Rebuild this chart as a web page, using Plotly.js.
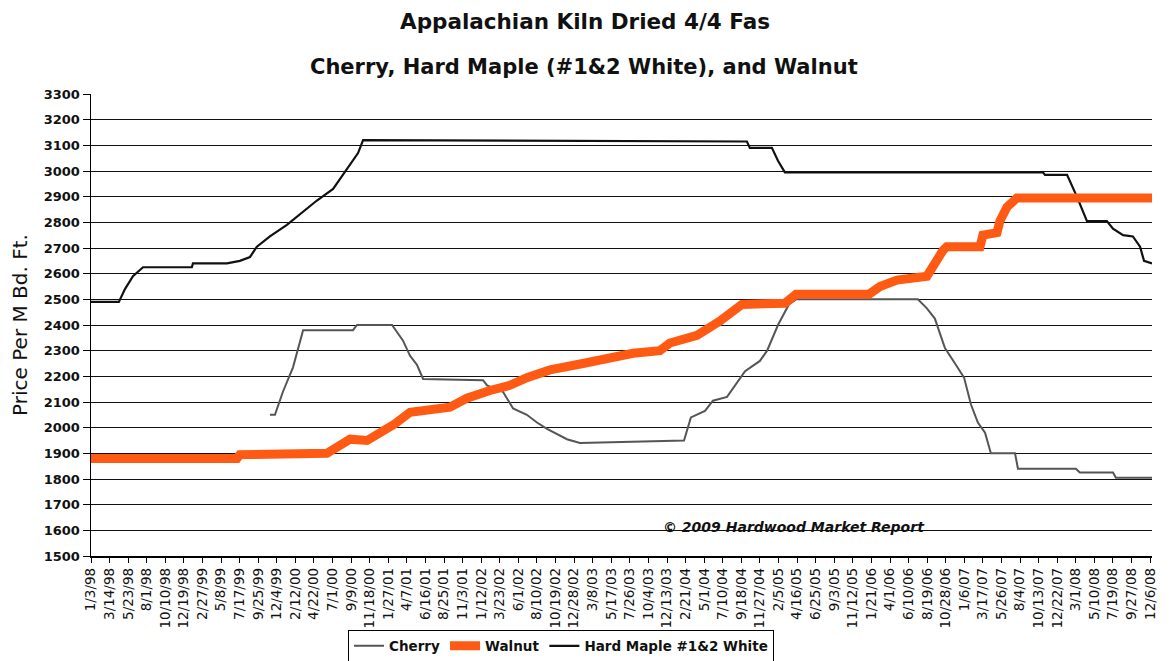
<!DOCTYPE html>
<html><head><meta charset="utf-8">
<script src="https://cdn.plot.ly/plotly-3.0.1.min.js"></script>
<style>html,body{margin:0;padding:0;background:#fff}#chart{width:1170px;height:661px}</style>
</head><body><div id="chart"></div>
<script>
// Category tick labels along the x axis (every 10 weeks)
const tickLabels = ['1/3/98','3/14/98','5/23/98','8/1/98','10/10/98','12/19/98','2/27/99','5/8/99','7/17/99','9/25/99','12/4/99','2/12/00','4/22/00','7/1/00','9/9/00','11/18/00','1/27/01','4/7/01','6/16/01','8/25/01','11/3/01','1/12/02','3/23/02','6/1/02','8/10/02','10/19/02','12/28/02','3/8/03','5/17/03','7/26/03','10/4/03','12/13/03','2/21/04','5/1/04','7/10/04','9/18/04','11/27/04','2/5/05','4/16/05','6/25/05','9/3/05','11/12/05','1/21/06','4/1/06','6/10/06','8/19/06','10/28/06','1/6/07','3/17/07','5/26/07','8/4/07','10/13/07','12/22/07','3/1/08','5/10/08','7/19/08','9/27/08','12/6/08'];

// Cherry
const cherryDates = ['1999-11-08','1999-11-27','1999-12-27','2000-02-03','2000-03-12','2000-09-16','2000-10-01','2001-02-10','2001-03-23','2001-04-19','2001-05-15','2001-06-07','2002-01-19','2002-02-03','2002-04-04','2002-05-12','2002-07-03','2002-08-10','2002-09-17','2002-12-01','2003-01-19','2004-02-15','2004-03-12','2004-05-04','2004-06-03','2004-07-26','2004-10-02','2004-11-27','2004-12-24','2005-02-03','2005-03-16','2005-04-12','2006-07-15','2006-08-18','2006-09-17','2006-10-25','2006-12-05','2007-01-05','2007-01-31','2007-02-26','2007-03-25','2007-04-16','2007-07-16','2007-07-27','2008-03-01','2008-03-16','2008-07-19','2008-07-30','2008-12-13'];
const cherryPrices = [2050,2050,2140,2235,2380,2380,2400,2400,2340,2280,2245,2190,2185,2165,2140,2075,2050,2020,1995,1955,1940,1950,2040,2065,2105,2120,2220,2260,2300,2400,2480,2500,2500,2465,2425,2310,2245,2195,2090,2020,1980,1900,1900,1840,1840,1825,1825,1805,1805];

// Walnut
const walnutDates = ['1998-01-03','1999-07-07','1999-07-18','2000-06-10','2000-09-05','2000-11-08','2001-02-21','2001-04-19','2001-09-16','2001-11-19','2002-02-14','2002-04-30','2002-07-03','2002-09-28','2003-01-30','2003-08-07','2003-11-16','2003-12-24','2004-04-04','2004-05-23','2004-06-29','2004-09-20','2005-03-01','2005-04-12','2006-01-12','2006-02-22','2006-04-27','2006-08-18','2006-09-10','2006-10-17','2006-11-01','2007-03-06','2007-03-17','2007-05-09','2007-05-20','2007-06-16','2007-07-23','2008-12-13'];
const walnutPrices = [1880,1880,1895,1900,1955,1950,2015,2060,2080,2115,2145,2165,2195,2225,2250,2290,2300,2330,2360,2390,2415,2480,2485,2520,2520,2550,2575,2590,2635,2690,2705,2705,2750,2760,2805,2860,2895,2895];

// Hard Maple #1&2 White
const mapleDates = ['1998-01-03','1998-04-18','1998-05-11','1998-06-10','1998-07-18','1999-01-18','1999-01-22','1999-05-30','1999-07-18','1999-08-25','1999-09-20','1999-11-08','2000-01-11','2000-02-29','2000-05-03','2000-07-03','2000-08-24','2000-10-05','2000-10-24','2004-10-09','2004-10-20','2005-01-11','2005-02-03','2005-03-01','2007-10-29','2007-11-06','2008-01-28','2008-03-05','2008-04-12','2008-06-26','2008-07-19','2008-08-26','2008-10-02','2008-10-29','2008-11-13','2008-12-13'];
const maplePrices = [2490,2490,2540,2590,2625,2625,2640,2640,2650,2665,2705,2745,2790,2830,2885,2930,3005,3070,3120,3115,3090,3090,3040,2995,2995,2985,2985,2900,2805,2805,2775,2750,2745,2705,2650,2640];

function labelToISO(s){
  const p = s.split('/').map(Number);
  const yr = p[2] < 50 ? 2000 + p[2] : 1900 + p[2];
  return yr + '-' + String(p[0]).padStart(2,'0') + '-' + String(p[1]).padStart(2,'0');
}
const tickDates = tickLabels.map(labelToISO);

const F = 'DejaVu Sans, Liberation Sans, Arial, sans-serif';

const traces = [
  {name:'Cherry', x:cherryDates, y:cherryPrices, type:'scatter', mode:'lines',
   line:{color:'#555555', width:2}, legendrank:1},
  {name:'Hard Maple #1&2 White', x:mapleDates, y:maplePrices, type:'scatter', mode:'lines',
   line:{color:'#111111', width:2.2}, legendrank:3},
  {name:'Walnut', x:walnutDates, y:walnutPrices, type:'scatter', mode:'lines',
   line:{color:'#ff5a14', width:9}, legendrank:2}
];

const layout = {
  width:1170, height:661,
  margin:{l:91, r:18, t:94, b:105, autoexpand:false},
  paper_bgcolor:'#ffffff', plot_bgcolor:'#ffffff',
  font:{family:F, color:'#111'},
  showlegend:true,
  title:{text:'Appalachian Kiln Dried 4/4 Fas', font:{family:F, size:21.5, weight:'bold', color:'#111'},
         x:0.5, xref:'container', xanchor:'center', y:1-21/661, yref:'container', yanchor:'middle'},
  xaxis:{type:'date', range:['1998-01-03','2008-12-13'], tickmode:'array', tickvals:tickDates, ticktext:tickLabels,
         tickangle:-90, ticks:'outside', ticklen:5, tickcolor:'#000', showline:true, linecolor:'#000', linewidth:1.5,
         showgrid:false, zeroline:false, automargin:false, tickfont:{family:F, size:13.5, color:'#111'}, fixedrange:true},
  yaxis:{range:[1500,3300], tick0:1500, dtick:100, ticks:'outside', ticklen:7, tickcolor:'#000',
         showline:true, linecolor:'#000', linewidth:1.5, showgrid:true, gridcolor:'#111', gridwidth:1,
         zeroline:false, automargin:false, tickfont:{family:F, size:13, weight:'bold', color:'#111'},
         title:{text:'Price Per M Bd. Ft.', font:{family:F, size:20, color:'#111'}, standoff:10}, fixedrange:true},
  legend:{orientation:'h', x:0.443, xanchor:'center', y:1-646/661, yref:'container', yanchor:'middle',
          bordercolor:'#000', borderwidth:1, bgcolor:'#fff', font:{family:F, size:13.5, weight:'bold', color:'#111'},
          traceorder:'normal', itemwidth:30},
  annotations:[
    {text:'Cherry, Hard Maple (#1&2 White), and Walnut', xref:'paper', yref:'paper', x:(584-91)/1061, y:(556-67)/462,
     xanchor:'center', yanchor:'middle', showarrow:false, font:{family:F, size:21, weight:'bold', color:'#111'}},
    {text:'<i>© 2009 Hardwood Market Report</i>', xref:'paper', yref:'paper', x:(794-91)/1061, y:(556-527)/462,
     xanchor:'center', yanchor:'middle', showarrow:false, font:{family:F, size:14, weight:'bold', color:'#111'}}
  ]
};

Plotly.newPlot('chart', traces, layout, {displayModeBar:false, staticPlot:true});
</script></body></html>
